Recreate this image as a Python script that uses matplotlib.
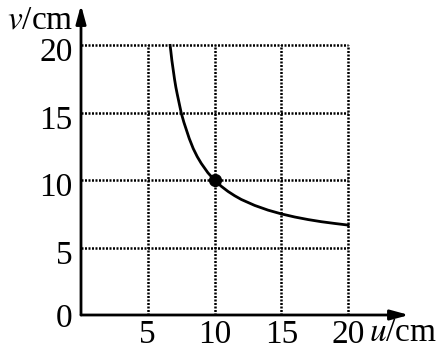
import matplotlib
matplotlib.use("Agg")
import matplotlib.pyplot as plt
from matplotlib.transforms import ScaledTranslation

plt.rcParams['font.family'] = ['Liberation Serif', 'DejaVu Serif']
plt.rcParams['mathtext.fontset'] = 'stix'

# image distance v vs object distance u
u = [6.67, 6.72, 6.8, 6.9, 7.0, 7.1, 7.2, 7.35, 7.5, 7.7, 7.9, 8.1, 8.4, 8.7,
     9.0, 9.5, 10.0, 10.5, 11.0, 11.5, 12.0, 13.0, 14.0, 15.0, 16.0, 17.0,
     18.0, 19.0, 20.0]
v = [20.0, 19.6, 18.9, 18.2, 17.5, 16.9, 16.4, 15.7, 15.0, 14.3, 13.7, 13.1,
     12.35, 11.75, 11.25, 10.55, 10.0, 9.55, 9.17, 8.85, 8.57, 8.13, 7.78,
     7.5, 7.27, 7.08, 6.92, 6.79, 6.67]
point_u = [10]
point_v = [10]

x_ticks = [5, 10, 15, 20]
y_ticks = [0, 5, 10, 15, 20]

fig = plt.figure(figsize=(4.43, 3.5), dpi=100)
ax = fig.add_axes([81 / 443, 35 / 350, 328 / 443, 310 / 350])
ax.set_xlim(0, 24.55)
ax.set_ylim(0, 23.0)

# dotted grid
for gx in x_ticks:
    ax.plot([gx, gx], [0, 20], color='black', lw=1.8, ls=(0, (0.8, 0.6)))
for gy in y_ticks[1:]:
    ax.plot([0, 20], [gy, gy], color='black', lw=1.8, ls=(0, (0.8, 0.6)))

ax.plot(u, v, color='black', lw=2.0)
ax.plot(point_u, point_v, 'o', color='black', markersize=8.5)

# axes with arrows
arrow = dict(arrowstyle='-|>,head_length=1.1,head_width=0.3', lw=2, color='black',
             shrinkA=0, shrinkB=0)
ax.annotate('', xy=(24.55, 0), xytext=(0, 0), arrowprops=arrow, annotation_clip=False)
ax.annotate('', xy=(0, 23.0), xytext=(0, 0), arrowprops=arrow, annotation_clip=False)

for s in ax.spines.values():
    s.set_visible(False)
ax.set_xticks(x_ticks)
ax.set_yticks(y_ticks)
ax.tick_params(length=0, labelsize=24)
ax.tick_params(axis='x', pad=3)
ax.tick_params(axis='y', pad=6)

# y labels sit a little below their grid lines
shift = ScaledTranslation(0, -3 / 72, fig.dpi_scale_trans)
for tick in ax.yaxis.get_major_ticks()[1:]:
    tick.label1.set_transform(tick.label1.get_transform() + shift)

ax.text(-0.55, 21.9, r'$\mathit{v}$/cm', fontsize=24, ha='right', va='center')
ax.text(21.55, -1.3, r'$\mathit{u}$/cm', fontsize=24, ha='left', va='center')

fig.savefig('out.png', dpi=100)
